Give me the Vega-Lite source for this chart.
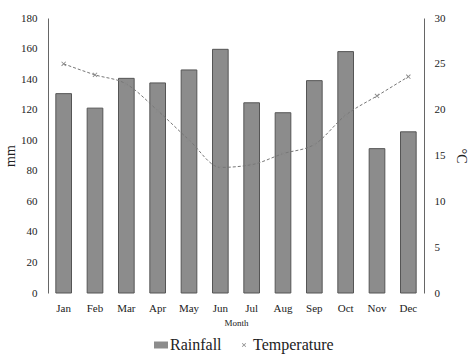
{
  "$schema": "https://vega.github.io/schema/vega-lite/v6.json",
  "width": 376,
  "height": 275,
  "autosize": {"type": "none"},
  "padding": {"left": 48, "top": 18, "right": 50, "bottom": 63},
  "background": "white",
  "config": {
    "view": {"stroke": null},
    "font": "Liberation Serif",
    "axis": {"labelFont": "Liberation Serif", "titleFont": "Liberation Serif", "labelColor": "#222", "titleColor": "#222", "titleFontWeight": "normal", "grid": false, "ticks": false},
    "legend": {"labelFont": "Liberation Serif"}
  },
  "data": {"values": [
    {"month": "Jan", "rain": 130.5, "temp": 25.0},
    {"month": "Feb", "rain": 121, "temp": 23.8},
    {"month": "Mar", "rain": 140.5, "temp": 22.8},
    {"month": "Apr", "rain": 137.5, "temp": 19.9},
    {"month": "May", "rain": 146, "temp": 16.7},
    {"month": "Jun", "rain": 159.5, "temp": 13.7},
    {"month": "Jul", "rain": 124.5, "temp": 14.0},
    {"month": "Aug", "rain": 118, "temp": 15.2},
    {"month": "Sep", "rain": 139, "temp": 16.2},
    {"month": "Oct", "rain": 158, "temp": 19.4},
    {"month": "Nov", "rain": 94.5, "temp": 21.5},
    {"month": "Dec", "rain": 105.5, "temp": 23.6}
  ]},
  "encoding": {
    "x": {
      "field": "month", "type": "nominal", "sort": null,
      "scale": {"paddingInner": 0.5, "paddingOuter": 0.25},
      "axis": {"labelAngle": 0, "domain": false, "labelFontSize": 11, "labelPadding": 9, "title": "Month", "titleFontSize": 9, "titlePadding": 5}
    }
  },
  "layer": [
    {
      "mark": {"type": "bar", "stroke": "#555", "strokeWidth": 1},
      "encoding": {
        "y": {
          "field": "rain", "type": "quantitative",
          "scale": {"domain": [0, 180], "nice": false},
          "axis": {"orient": "left", "values": [0,20,40,60,80,100,120,140,160,180], "domainColor": "#666", "labelFontSize": 11, "labelPadding": 11, "title": "mm", "titleFontSize": 14, "titlePadding": 3}
        },
        "color": {
          "datum": "Rainfall",
          "scale": {"domain": ["Rainfall", "Temperature"], "range": ["#8c8c8c", "#8a8a8a"]},
          "legend": {
            "title": null, "orient": "none", "direction": "horizontal",
            "legendX": 105, "legendY": 319,
            "labelFont": "Liberation Serif", "labelFontSize": 16, "labelColor": "#222",
            "symbolSize": 196, "symbolStrokeWidth": 0, "labelOffset": 1, "columnPadding": 14
          }
        }
      }
    },
    {
      "layer": [
        {
          "mark": {"type": "line", "interpolate": "monotone", "stroke": "#777", "strokeWidth": 1, "strokeDash": [3, 2]},
          "encoding": {
            "y": {"field": "temp", "type": "quantitative"}
          }
        },
        {
          "mark": {"type": "point", "filled": true, "size": 260, "opacity": 1},
          "encoding": {
            "y": {"field": "temp", "type": "quantitative"},
            "color": {"datum": "Temperature"},
            "shape": {
              "datum": "Temperature",
              "scale": {"domain": ["Rainfall", "Temperature"], "range": ["M-1,-0.5L1,-0.5L1,0.5L-1,0.5Z", "M-0.3,-0.22L-0.22,-0.3L0,-0.08L0.22,-0.3L0.3,-0.22L0.08,0L0.3,0.22L0.22,0.3L0,0.08L-0.22,0.3L-0.3,0.22L-0.08,0Z"]}
            }
          }
        }
      ],
      "encoding": {
        "y": {
          "field": "temp", "type": "quantitative",
          "scale": {"domain": [0, 30], "nice": false},
          "axis": {"orient": "right", "values": [0,5,10,15,20,25,30], "domainColor": "#666", "labelFontSize": 11, "labelPadding": 10, "title": "°C", "titleFontSize": 14, "titlePadding": 8}
        }
      }
    }
  ],
  "resolve": {"scale": {"y": "independent"}}
}
